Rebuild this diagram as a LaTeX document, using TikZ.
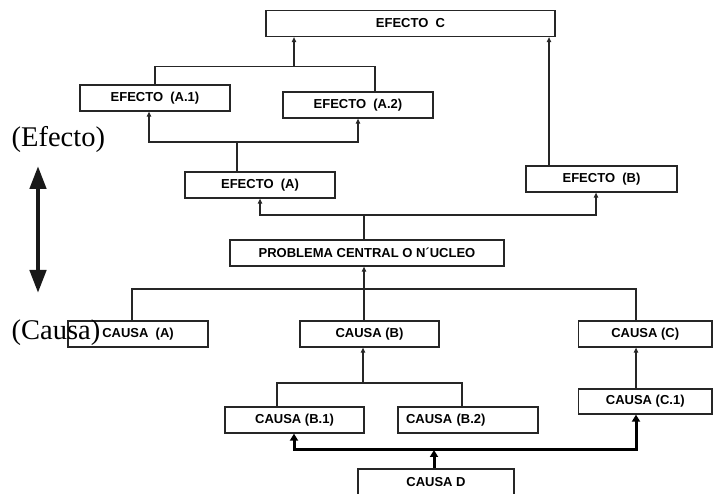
\documentclass[tikz,border=0pt]{standalone}
\usepackage{fontspec}
\setmainfont{Liberation Serif}
\newfontfamily\labfont{Liberation Sans}
\usetikzlibrary{arrows.meta}
\begin{document}
\begin{tikzpicture}[x=1pt,y=-1pt,
  box/.style={draw=black!85, line width=1.3pt, fill=white, inner sep=0pt,
    minimum height=26pt, font=\labfont\bfseries\fontsize{13}{15}\selectfont},
  link/.style={draw=black!85, line width=1.1pt},
  up/.style={link, -{Triangle[length=5pt,width=4.5pt]}},
  heavy/.style={draw=black, line width=3pt, -{Triangle[length=7pt,width=8pt]}},
  side/.style={anchor=base west, inner sep=0pt, font=\fontsize{28.5}{32}\selectfont}]
\useasboundingbox (0,0) rectangle (713,494);
\clip (0,0) rectangle (713,494);

% effect tree
\node[box, minimum width=289pt] (EC)  at (410.5,23.5) {EFECTO~~C};
\node[box, minimum width=150pt] (EA1) at (155,98)  {EFECTO~~(A.1)};
\node[box, minimum width=150pt] (EA2) at (358,105) {EFECTO~~(A.2)};
\node[box, minimum width=150pt] (EA)  at (260,185) {EFECTO~~(A)};
\node[box, minimum width=151pt] (EB)  at (601.5,179) {EFECTO~~(B)};

% central problem
\node[box, minimum width=274pt] (PC) at (367,253) {PROBLEMA CENTRAL O N´UCLEO};

% cause tree
\node[box, minimum width=140pt] (CA)  at (138,334)   {CAUSA~~(A)};
\node[box, minimum width=139pt] (CB)  at (369.5,334) {CAUSA (B)};
\node[box, minimum width=133.5pt] (CC)  at (645.25,334) {CAUSA (C)};
\node[box, minimum width=133.5pt, minimum height=25pt] (CC1) at (645.25,401.5) {CAUSA (C.1)};
\node[box, minimum width=139pt] (CB1) at (294.5,420) {CAUSA (B.1)};
\node[box, minimum width=140pt, text width=124pt, align=left] (CB2) at (468,420) {CAUSA (B.2)};
\node[box, minimum width=156pt] (CD)  at (436,482) {CAUSA D};

% junction points
\coordinate (j1) at (294,66.7);
\coordinate (j2) at (237,142);
\coordinate (j3) at (364,215);
\coordinate (j4) at (364,289);
\coordinate (j5) at (363,383);
\coordinate (j6) at (434,450);

% effects
\draw[link] (EA1.north) |- (j1) -| ([xshift=17pt]EA2.north);
\draw[up] (j1) -- (j1 |- EC.south);
\draw[link] ([xshift=-23pt]EA.north) -- (j2);
\draw[up] (j2) -| ([xshift=-6pt]EA1.south);
\draw[up] (j2) -| (EA2.south);
\draw[up] ([xshift=-52.5pt]EB.north) -- ([xshift=-52.5pt]EB.north |- EC.south);
\draw[link] ([xshift=-3pt]PC.north) -- (j3);
\draw[up] (j3) -| (EA.south);
\draw[up] (j3) -| ([xshift=-5.5pt]EB.south);

% causes
\draw[link] ([xshift=-6pt]CA.north) |- (j4) -| ([xshift=-9.25pt]CC.north);
\draw[up] ([xshift=-5.5pt]CB.north) -- ([xshift=-5.5pt]CB.north |- PC.south);
\draw[link] ([xshift=-17.5pt]CB1.north) |- (j5) -| ([xshift=-6pt]CB2.north);
\draw[up] (j5) -- (j5 |- CB.south);
\draw[up] ([xshift=-9.25pt]CC1.north) -- ([xshift=-9.25pt]CC1.north |- CC.south);
\draw[heavy] ([xshift=-2pt]CD.north) -- (j6);
\draw[heavy] (j6) -| ([xshift=-0.5pt]CB1.south);
\draw[heavy] (j6) -| ([xshift=-9.25pt]CC1.south);

% side scale
\node[side] (te) at (11.5,147) {(Efecto)};
\node[side] (tc) at (11.5,340) {(Causa)};
\coordinate (s1) at (38,166);
\coordinate (s2) at (38,293);
\draw[draw=black!90, line width=4.5pt, {Triangle[length=23pt,width=16pt]}-{Triangle[length=23pt,width=16pt]}] (s1) -- (s2);
\end{tikzpicture}
\end{document}
